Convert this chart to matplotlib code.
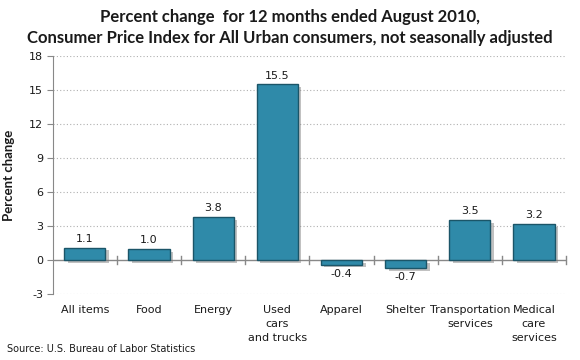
import matplotlib
matplotlib.use("Agg")
import matplotlib.pyplot as plt
import matplotlib.patheffects as pe

categories = ["All items", "Food", "Energy", "Used\ncars\nand trucks", "Apparel",
              "Shelter", "Transportation\nservices", "Medical\ncare\nservices"]
values = [1.1, 1.0, 3.8, 15.5, -0.4, -0.7, 3.5, 3.2]
yticks = [-3, 0, 3, 6, 9, 12, 15, 18]

BAR = "#2f8aa9"
EDGE = "#1b5568"
TXT = "#1a1a1a"

fig = plt.figure(figsize=(5.8, 3.6), dpi=100)
ax = fig.add_axes([0.091, 0.183, 0.885, 0.661])

x = list(range(len(categories)))
bars = ax.bar(x, values, width=0.64, color=BAR, edgecolor=EDGE, linewidth=1.0, zorder=3)
for b in bars:
    b.set_path_effects([pe.SimplePatchShadow(offset=(2.5, -2), shadow_rgbFace="#777777", alpha=0.45),
                        pe.Normal()])

for xi, v in zip(x, values):
    if v >= 0:
        ax.text(xi, v + 0.35, f"{v:.1f}", ha="center", va="bottom", fontsize=8, color=TXT)
    else:
        ax.text(xi, v - 0.35, f"{v:.1f}", ha="center", va="top", fontsize=8, color=TXT)

ax.set_xlim(-0.5, len(categories) - 0.5)
ax.set_ylim(-3, 18)
ax.set_yticks(yticks)
ax.set_yticklabels([str(t) for t in yticks], fontsize=8, color=TXT)
for t in yticks:
    if t != 0:
        ax.axhline(t, color="#b0b0b0", lw=0.8, ls=(0, (1, 2)), zorder=1)

# category axis drawn at zero with ticks between categories
ax.axhline(0, color="#888888", lw=1.0, zorder=2)
for k in range(1, len(categories) + 1):
    ax.plot([k - 0.5, k - 0.5], [-0.35, 0.35], color="#888888", lw=1.0, zorder=2, clip_on=False)

ax.set_xticks(x)
ax.set_xticklabels(categories, fontsize=8, color=TXT, linespacing=1.5)
ax.tick_params(axis="x", length=0, pad=8)
ax.tick_params(axis="y", length=4, color="#888888", direction="out", pad=3)

for s in ["top", "right", "bottom"]:
    ax.spines[s].set_visible(False)
ax.spines["left"].set_color("#888888")

ax.set_ylabel("Percent change", fontsize=9.5, fontweight="bold", color=TXT, labelpad=10,
              family="Lato")

fig.text(0.5, 0.975, "Percent change  for 12 months ended August 2010,\n"
         "Consumer Price Index for All Urban consumers, not seasonally adjusted",
         ha="center", va="top", fontsize=12, fontweight="bold", color=TXT,
         family="Lato", linespacing=1.4)
fig.text(0.012, 0.022, "Source: U.S. Bureau of Labor Statistics", fontsize=7, color=TXT)

fig.savefig("out.png", dpi=100)
